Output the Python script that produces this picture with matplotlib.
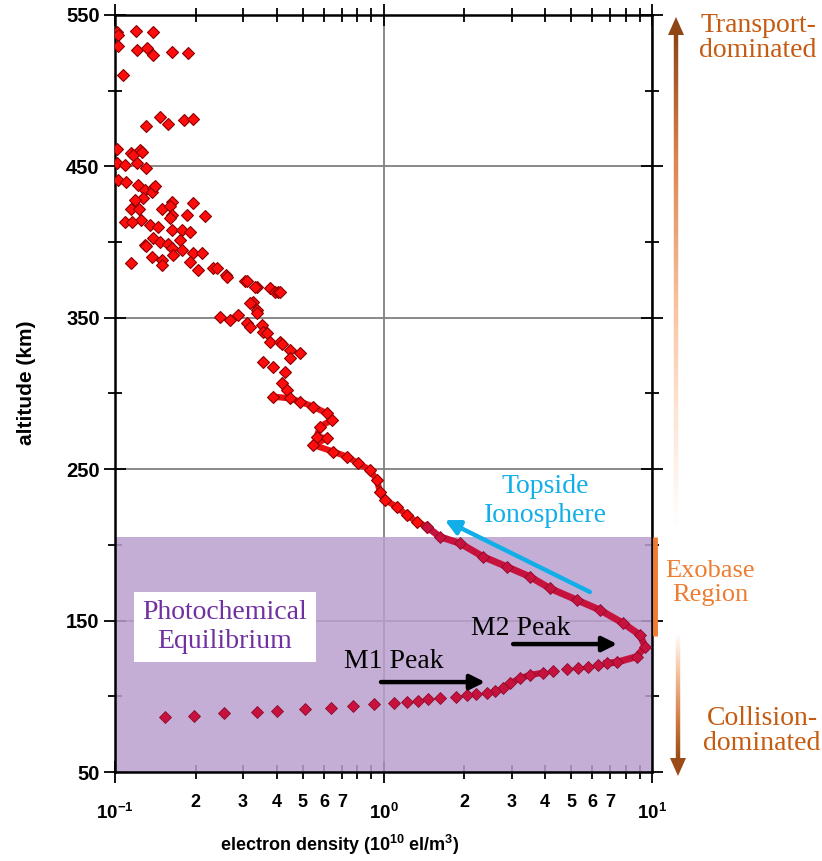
import numpy as np
import matplotlib
matplotlib.use('Agg')
import matplotlib.pyplot as plt
from matplotlib.ticker import FixedLocator, LogLocator, FuncFormatter
from matplotlib.collections import LineCollection
from matplotlib.colors import LinearSegmentedColormap
from matplotlib.patches import Polygon

plt.rcParams['font.family'] = ['Liberation Sans', 'DejaVu Sans']
plt.rcParams['mathtext.fontset'] = 'custom'
plt.rcParams['mathtext.rm'] = 'Liberation Sans:bold'
plt.rcParams['mathtext.bf'] = 'Liberation Sans:bold'
plt.rcParams['mathtext.default'] = 'rm'

# electron density (1e10 el/m^3) vs altitude (km)
# sparse points of the upper ionosphere
top_dens = [0.1015, 0.1026, 0.120, 0.138, 0.1026, 0.121, 0.132, 0.138, 0.163, 0.187,
            0.107, 0.147, 0.158, 0.131, 0.181, 0.196,
            0.1015, 0.115, 0.124, 0.1015, 0.109, 0.1205, 0.131, 0.117, 0.126,
            0.103, 0.110, 0.122, 0.129, 0.139, 0.137, 0.141, 0.1275, 0.119, 0.163,
            0.195, 0.149, 0.115, 0.123, 0.160, 0.163, 0.185, 0.216, 0.160, 0.109,
            0.125, 0.1154, 0.135, 0.145, 0.163, 0.177, 0.190, 0.175, 0.139, 0.147,
            0.158, 0.129, 0.131, 0.163, 0.177, 0.196, 0.210, 0.165, 0.137, 0.149,
            0.115, 0.190, 0.204, 0.149, 0.232, 0.239, 0.260, 0.262, 0.305, 0.309,
            0.337, 0.332, 0.378, 0.394, 0.406, 0.412]
top_alt = [539, 537, 539.4, 539, 529.5, 527, 528.4, 523.6, 525.4, 524.7,
           510.4, 482.4, 478, 476.7, 480.6, 481.3,
           461.3, 458.6, 460.8, 452, 451, 452, 448.7, 457.5, 459.7,
           441, 440, 437.7, 434.4, 435.5, 433.3, 437, 429, 428, 426.7,
           425.6, 421.7, 421.7, 422, 424, 418, 418, 417.2, 415.7, 413.5,
           414.6, 413, 411.3, 410, 408, 408, 407, 401.4, 402.5, 400.3,
           399, 398, 397.4, 396, 394.8, 392.6, 392.6, 391.2, 390.3, 388,
           386.4, 386.8, 381.6, 384.9, 382.7, 382.7, 378.3, 377.2, 374, 374,
           370.6, 370.6, 369.5, 367.3, 367.3, 367.3]

# chain of the middle topside
mid_dens = [0.327, 0.318, 0.337, 0.337, 0.288, 0.246, 0.268, 0.310, 0.352, 0.318,
            0.357, 0.367, 0.378, 0.412, 0.418, 0.449, 0.489, 0.449, 0.357, 0.389,
            0.430, 0.418, 0.436, 0.389, 0.449, 0.489, 0.548, 0.615, 0.642, 0.580,
            0.564, 0.615, 0.548, 0.650, 0.730, 0.806, 0.891, 0.943, 0.971, 1.013,
            1.12, 1.22, 1.33, 1.45]
mid_alt = [360.7, 359.6, 355.2, 353, 351.8, 350.7, 348.5, 346.4, 345.2, 344,
           340.8, 339.8, 334.2, 334.2, 333, 328.7, 326.5, 323.3, 321, 317.7,
           314.4, 306.7, 302.3, 297.9, 296.8, 294.6, 291.3, 286.9, 282.5, 278.1,
           271.5, 270.4, 266, 261.6, 258.3, 253.9, 249.5, 242.9, 235.1, 229.7,
           225.2, 219.7, 215.3, 212]

# dense profile through the M2 peak
low_dens = [1.45, 1.62, 1.93, 2.35, 2.88, 3.51, 4.17, 5.25, 6.40, 7.82,
            9.02, 9.42, 8.77, 7.39, 6.78]
low_alt = [212, 205.4, 201, 192.2, 185.6, 179, 171.3, 163.6, 157, 148.2,
           140.5, 132.8, 126.2, 122.5, 121.8]

# bottomside points below the peak (M1 shoulder and below)
bot_dens = [6.31, 5.79, 5.32, 4.81, 4.29, 3.94, 3.51, 3.23, 2.96, 2.79,
            2.60, 2.42, 2.22, 2.04, 1.87, 1.62, 1.47, 1.35, 1.22, 1.09,
            0.92, 0.77, 0.636, 0.51, 0.402, 0.337, 0.255, 0.197, 0.154]
bot_alt = [120.7, 119.6, 118.9, 118, 116.9, 115.6, 114.1, 111.9, 108.6, 105.3,
           103.7, 102.4, 101.3, 100.7, 99.8, 99.1, 98.2, 97.1, 96.4, 95.8,
           94.7, 93.6, 92.1, 91.4, 90.5, 89.4, 88.8, 87.2, 86.5]

pce_top = 205  # top of the photochemical equilibrium shading (km)

W, H = 822, 861
fig = plt.figure(figsize=(W / 100, H / 100), dpi=100)
ax = fig.add_axes([115 / W, 1 - 772 / H, 537 / W, 757 / H])

ax.set_xscale('log')
ax.set_xlim(0.1, 10)
ax.set_ylim(50, 550)

ax.set_axisbelow(True)
ax.grid(which='major', color='#808080', lw=1.3)
ax.axhspan(50, pce_top, color='#bba0cf', alpha=0.85, lw=0, zorder=1)

red = dict(marker='D', ms=6, mfc='#ff0d0d', mec='#8a0000', mew=0.8)
crim = dict(marker='D', ms=6, mfc='#c8123e', mec='#8a0a2c', mew=0.6)
ax.plot(top_dens, top_alt, ls='none', zorder=3, **red)
ax.plot(mid_dens[23:], mid_alt[23:], color='#ee1111', lw=4.5, zorder=3)
ax.plot(mid_dens, mid_alt, ls='none', zorder=3, **red)
ax.plot(low_dens, low_alt, color='#c8123e', lw=5, zorder=3, solid_joinstyle='round', **crim)
ax.plot(bot_dens[5:10], bot_alt[5:10], color='#c8123e', lw=4.5, zorder=3)
ax.plot(bot_dens, bot_alt, ls='none', zorder=3, **crim)

# axes styling
ax.set_yticks([50, 150, 250, 350, 450, 550])
ax.yaxis.set_minor_locator(FixedLocator([100, 200, 300, 400, 500]))
ax.xaxis.set_major_locator(LogLocator(base=10))
ax.xaxis.set_minor_locator(LogLocator(base=10, subs=np.arange(2, 10)))
ax.xaxis.set_major_formatter(FuncFormatter(lambda v, p: r'$10^{%d}$' % round(np.log10(v))))


def minor_fmt(v, pos):
    m = int(round(v / 10 ** np.floor(np.log10(v) + 1e-9)))
    return str(m) if 2 <= m <= 7 else ''


ax.xaxis.set_minor_formatter(FuncFormatter(minor_fmt))
for s in ax.spines.values():
    s.set_linewidth(1.8)
ax.tick_params(which='both', direction='inout', top=True, right=True, width=1.3)
ax.tick_params(which='major', length=16)
ax.tick_params(which='minor', length=10)
ax.tick_params(axis='y', which='major', labelsize=14.5, pad=3)
ax.tick_params(axis='x', which='major', labelsize=13.5, pad=14)
ax.tick_params(axis='x', which='minor', labelsize=13, pad=11)
for lab in ax.get_yticklabels() + ax.get_xticklabels(which='both'):
    lab.set_fontweight('bold')

ax.set_xlabel(r'electron density (10$^{10}$ el/m$^{3}$)', fontsize=13, fontweight='bold')
ax.set_ylabel('altitude (km)', fontsize=15, fontweight='bold')
ax.xaxis.set_label_coords(0.419, -0.080)
ax.yaxis.set_label_coords(-0.148, 0.514)

serif = ['Liberation Serif', 'DejaVu Serif']

# annotations inside the plot
ax.annotate('', xy=(1.69, 216.4), xytext=(5.87, 168.9),
            arrowprops=dict(arrowstyle='-|>', color='#12aee8', lw=3.2, mutation_scale=22,
                            shrinkA=0, shrinkB=0), zorder=4)
ax.text(4.0, 229, 'Topside\nIonosphere', color='#12aee8', fontsize=20, family=serif,
        ha='center', va='center', zorder=4)
ax.annotate('', xy=(7.42, 134.5), xytext=(3.04, 134.5),
            arrowprops=dict(arrowstyle='-|>', color='black', lw=3.2, mutation_scale=22,
                            shrinkA=0, shrinkB=0), zorder=4)
ax.text(3.25, 145.1, 'M2 Peak', color='black', fontsize=20, family=serif,
        ha='center', va='center', zorder=4)
ax.annotate('', xy=(2.39, 109.4), xytext=(0.979, 109.4),
            arrowprops=dict(arrowstyle='-|>', color='black', lw=3.2, mutation_scale=22,
                            shrinkA=0, shrinkB=0), zorder=4)
ax.text(1.094, 122.7, 'M1 Peak', color='black', fontsize=20, family=serif,
        ha='center', va='center', zorder=4)
ax.text(0.257, 145.8, 'Photochemical\nEquilibrium', color='#7030a0', fontsize=20,
        family=serif, ha='center', va='center', zorder=4,
        bbox=dict(boxstyle='square,pad=0.3', fc='white', ec='none'))

# overlay in pixel coordinates for the regime arrows on the right
ov = fig.add_axes([0, 0, 1, 1], zorder=5)
ov.set_xlim(0, W)
ov.set_ylim(H, 0)
ov.axis('off')
ov.patch.set_alpha(0)

up_cmap = LinearSegmentedColormap.from_list(
    'up', [(0, '#ffffff'), (0.25, '#fde2d0'), (0.45, '#f9c3a0'), (0.75, '#d9864f'), (1, '#8f4617')])
down_cmap = LinearSegmentedColormap.from_list(
    'down', [(0, '#ffffff'), (0.3, '#f6c4a2'), (0.7, '#d07a42'), (1, '#9a4b17')])


def grad_arrow(x, y0, y1, cmap, head=18, hw=8):
    ys = np.linspace(y0, y1, 120)
    segs = [[(x, a), (x, b)] for a, b in zip(ys[:-1], ys[1:])]
    lc = LineCollection(segs, colors=cmap(np.linspace(0, 1, len(segs))), lw=3.2,
                        capstyle='butt')
    ov.add_collection(lc)
    d = np.sign(y1 - y0)
    ov.add_patch(Polygon([(x - hw, y1), (x + hw, y1), (x, y1 + d * head)],
                         closed=True, fc=cmap(1.0), ec='none'))


grad_arrow(676, 530, 35, up_cmap)
grad_arrow(678, 633, 758, down_cmap)
ov.plot([655, 655], [537, 636], color='#ed7d31', lw=3.5, solid_capstyle='butt')

ov.text(758, 38, 'Transport-\ndominated', color='#c55a11', fontsize=20, family=serif,
        ha='center', va='center', linespacing=1.05)
ov.text(710, 583, 'Exobase\nRegion', color='#ed7d31', fontsize=19, family=serif,
        ha='center', va='center', linespacing=1.1)
ov.text(762, 731, 'Collision-\ndominated', color='#c55a11', fontsize=20, family=serif,
        ha='center', va='center', linespacing=1.05)

fig.savefig('out.png', dpi=100)
